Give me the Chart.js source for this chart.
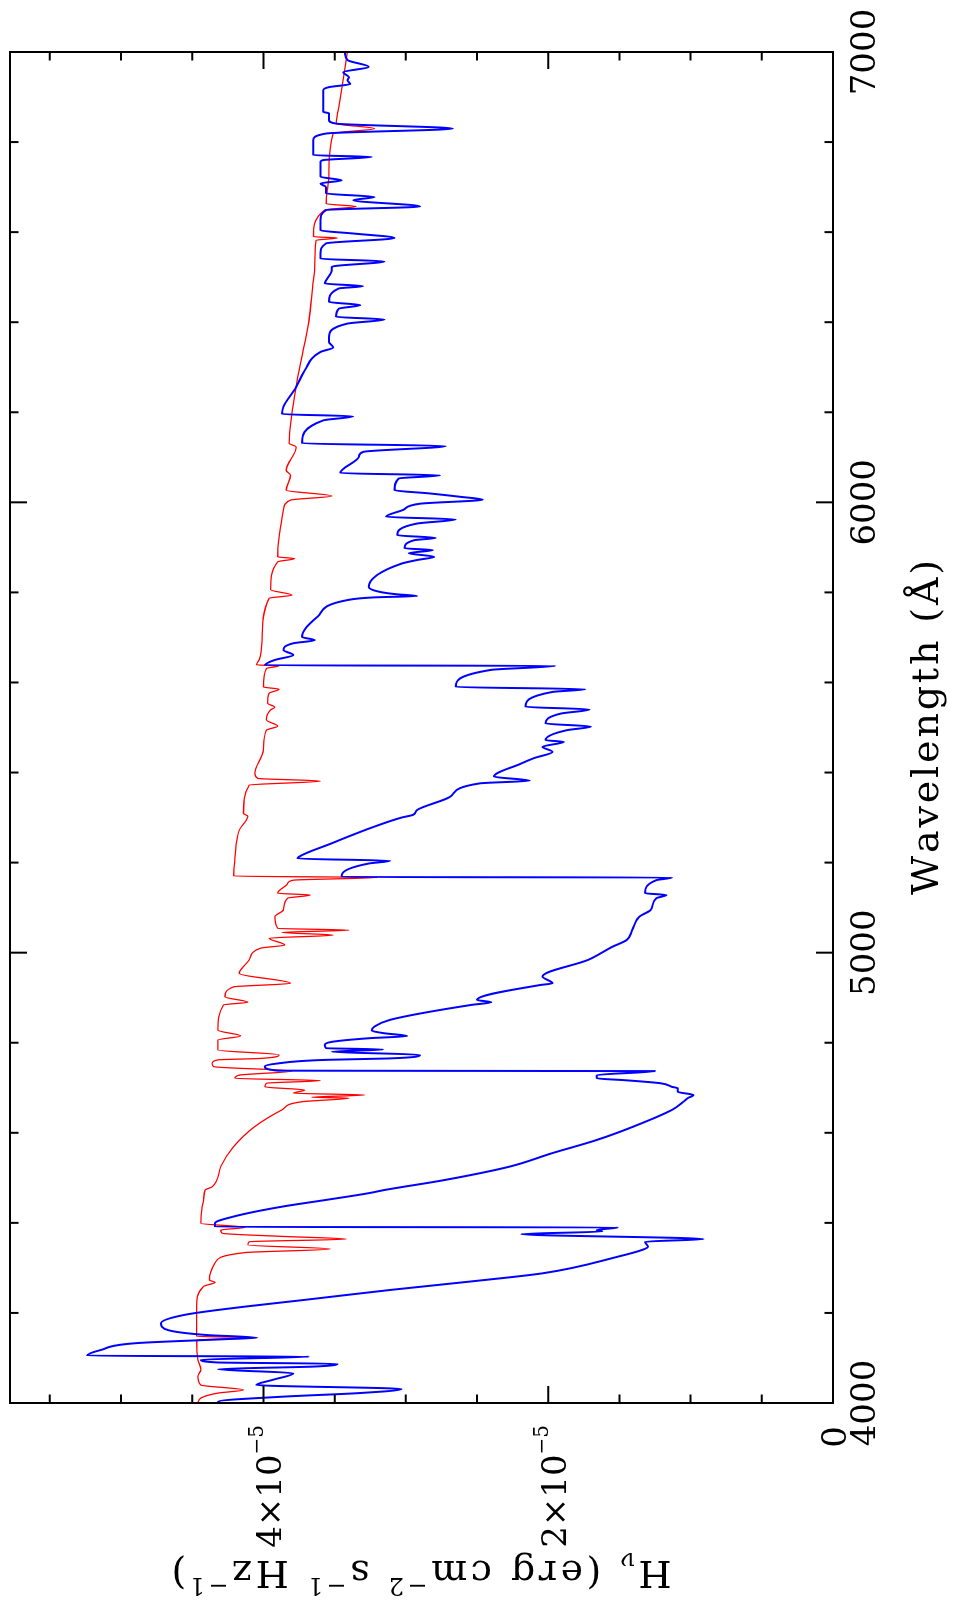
<!DOCTYPE html>
<html>
<head>
<meta charset="utf-8">
<script src="https://cdn.jsdelivr.net/npm/chart.js@4.4.1/dist/chart.umd.min.js"></script>
<style>
  html, body { margin: 0; padding: 0; background: #fff; overflow: hidden; width: 959px; height: 1615px; }
  #wrap { position: absolute; left: 0; top: 0; width: 1615px; height: 959px;
          transform-origin: 0 0; transform: translateY(1615px) rotate(-90deg); background: #fff; }
  canvas { display: block; }
</style>
</head>
<body>
<div id="wrap"><canvas id="c" width="1615" height="959"></canvas></div>
<script>
// ---- data (wavelength in Å, flux H_nu in units of 1e-5 erg cm^-2 s^-1 Hz^-1) ----
const FLUX_UNIT = 1e-5;

const blueWavelength = [4000,4003,4014,4022,4031,4040,4051,4066,4075,4081,4087,4090,4096,4103,4105,4118,4133,4142,4145,4151,4162,4177,4196,4214,4229,4251,4270,4288,4325,4340,4347,4358,4364,4375,4381,4384,4390,4391,4399,4414,4436,4451,4466,4473,4495,4525,4555,4584,4614,4651,4669,4677,4684,4691,4699,4702,4710,4717,4721,4728,4737,4738,4747,4754,4762,4765,4773,4780,4785,4788,4795,4802,4810,4815,4821,4827,4836,4851,4884,4890,4895,4928,4932,4947,4984,5013,5028,5050,5080,5095,5121,5128,5132,5161,5167,5168,5172,5198,5204,5209,5213,5243,5280,5300,5306,5317,5346,5376,5382,5391,5420,5432,5446,5457,5468,5472,5494,5502,5509,5531,5540,5546,5579,5585,5590,5628,5637,5638,5650,5661,5672,5687,5694,5701,5746,5783,5789,5792,5796,5801,5812,5864,5872,5879,5887,5894,5898,5916,5921,5927,5953,5962,5968,5983,5997,6006,6012,6020,6027,6053,6060,6065,6101,6112,6125,6131,6182,6191,6196,6212,6256,6293,6334,6344,6356,6367,6397,6406,6412,6430,6438,6445,6475,6480,6486,6493,6515,6523,6535,6541,6552,6575,6587,6597,6604,6626,6649,6657,6671,6678,6686,6700,6708,6715,6723,6756,6760,6767,6771,6804,6819,6830,6841,6849,6864,6867,6915,6922,6929,6937,6944,6955,6967,6982,7000];
const blueFlux = [4.30,4.32,3.87,3.33,3.03,4.05,3.94,3.79,4.32,3.64,3.48,4.32,4.44,3.68,5.24,5.14,4.89,4.25,4.05,4.40,4.67,4.72,4.55,4.13,3.71,3.11,2.54,2.04,1.51,1.34,1.30,1.32,0.91,2.19,1.62,1.66,1.51,4.34,4.34,4.21,3.87,3.56,3.26,3.15,2.73,2.27,1.97,1.66,1.40,1.13,1.05,1.02,0.98,1.09,1.09,1.13,1.21,1.47,1.66,1.66,1.25,3.90,3.99,3.90,3.56,3.13,2.90,3.52,3.16,3.56,3.57,3.52,3.26,2.99,3.15,3.24,3.22,3.11,2.54,2.40,2.50,2.06,1.97,2.04,1.72,1.55,1.45,1.41,1.36,1.28,1.24,1.17,1.32,1.24,1.13,3.45,3.45,3.26,3.11,3.76,3.75,3.52,3.22,3.03,2.95,2.92,2.69,2.48,2.13,2.38,2.19,2.10,1.97,2.04,1.89,2.02,1.87,1.70,2.02,1.91,1.71,2.16,1.97,1.74,2.65,2.40,1.95,3.99,3.92,3.79,3.86,3.79,3.64,3.73,3.62,3.41,3.22,2.92,3.07,3.18,3.26,3.03,2.92,2.80,2.98,2.81,3.01,2.94,2.79,3.06,2.92,2.65,3.14,3.02,2.90,2.46,2.61,2.84,3.08,3.05,2.76,3.46,3.33,3.30,2.72,3.73,3.58,3.37,3.87,3.86,3.77,3.71,3.60,3.51,3.54,3.54,3.41,3.15,3.49,3.47,3.32,3.54,3.47,3.30,3.57,3.56,3.52,3.52,3.15,3.60,3.60,3.56,3.08,3.37,3.60,3.60,3.56,2.90,3.37,3.22,3.56,3.56,3.60,3.45,3.60,3.60,3.58,3.24,3.65,3.65,3.56,2.67,3.49,3.54,3.54,3.58,3.58,3.54,3.39,3.41,3.40,3.44,3.26,3.41,3.43];

const redWavelength = [4000,4011,4022,4029,4040,4059,4074,4096,4140,4145,4148,4214,4259,4268,4273,4311,4334,4342,4351,4358,4364,4370,4377,4384,4390,4399,4436,4451,4473,4480,4525,4569,4614,4651,4669,4677,4679,4684,4688,4695,4702,4710,4716,4721,4728,4737,4747,4754,4762,4765,4773,4784,4806,4815,4828,4884,4890,4902,4924,4932,4954,4984,5010,5017,5032,5039,5045,5050,5054,5080,5095,5121,5128,5132,5154,5161,5167,5170,5209,5272,5303,5309,5372,5381,5387,5398,5450,5494,5503,5517,5539,5545,5554,5576,5585,5590,5631,5637,5639,5650,5694,5787,5794,5806,5868,5875,5879,5923,5964,5983,6005,6014,6027,6060,6071,6123,6131,6197,6293,6404,6493,6515,6582,6587,6590,6649,6657,6663,6730,6819,6830,6841,6878,7000];
const redFlux = [4.46,4.44,4.32,4.14,4.44,4.46,4.44,4.46,4.47,4.04,4.47,4.47,4.42,4.34,4.38,4.34,4.13,3.53,4.11,4.10,3.42,3.87,4.29,4.30,4.13,4.44,4.43,4.42,4.41,4.36,4.30,4.21,4.06,3.87,3.73,3.40,3.66,3.29,3.79,3.71,3.99,3.98,3.60,4.20,4.17,3.80,4.35,4.36,4.32,4.03,3.89,4.32,4.32,4.16,4.32,4.28,4.11,4.27,4.21,3.81,4.17,4.10,4.02,3.85,3.96,3.51,3.87,3.40,3.90,3.92,3.86,3.83,3.67,3.90,3.83,3.79,3.20,4.21,4.20,4.17,4.11,4.14,4.10,3.60,4.04,4.06,4.00,3.98,3.90,3.98,3.95,3.92,3.97,3.96,3.89,4.00,3.98,3.89,4.05,4.03,4.01,3.96,3.80,3.95,3.90,3.78,3.90,3.89,3.87,3.86,3.81,3.52,3.84,3.81,3.84,3.77,3.82,3.80,3.75,3.68,3.65,3.64,3.63,3.48,3.65,3.57,3.35,3.56,3.54,3.51,3.22,3.49,3.47,3.41];

// ---- axis ticks ----
const xTickValues = [4000, 5000, 6000, 7000];
const xTickLabels = ['4000', '5000', '6000', '7000'];
const yTickValues = [0, 2e-5, 4e-5];
const yTickMantissa = ['0', '2×10', '4×10'];
const yTickExponent = ['', '−5', '−5'];
const xTitle = 'Wavelength (Å)';

const FONT = '"DejaVu Serif", "Liberation Serif", serif';

function toPoints(xs, ys) { return xs.map((x, i) => ({ x: x, y: ys[i] * FLUX_UNIT })); }

function partsWidth(ctx, parts) {
  let w = 0, n = 0;
  for (const p of parts) {
    ctx.font = p.size + 'px ' + FONT;
    for (const ch of p.text) { w += ctx.measureText(ch).width; n++; }
  }
  return { w: w, n: n };
}
function drawParts(ctx, parts, x, y, align, targetWidth) {
  const m = partsWidth(ctx, parts);
  let spacing = 0;
  if (targetWidth) spacing = (targetWidth - m.w) / Math.max(1, m.n - 1);
  const total = m.w + spacing * (m.n - 1);
  let cx = align === 'right' ? x - total : (align === 'center' ? x - total / 2 : x);
  ctx.textAlign = 'left';
  ctx.textBaseline = 'alphabetic';
  for (const p of parts) {
    ctx.font = p.size + 'px ' + FONT;
    for (const ch of p.text) {
      ctx.fillText(ch, cx, y + (p.dy || 0));
      cx += ctx.measureText(ch).width + spacing;
    }
  }
}

const framePlugin = {
  id: 'pgframe',
  afterDraw(chart) {
    const ctx = chart.ctx;
    const { left, right, top, bottom } = chart.chartArea;
    const xs = chart.scales.x, ys = chart.scales.y;
    ctx.save();
    ctx.strokeStyle = '#000';
    ctx.fillStyle = '#000';
    ctx.lineWidth = 2;
    ctx.lineCap = 'butt';
    ctx.beginPath();
    for (let v = 4000; v <= 7000; v += 200) {
      const px = xs.getPixelForValue(v);
      const L = (v % 1000 === 0) ? 17 : 8.5;
      ctx.moveTo(px, bottom); ctx.lineTo(px, bottom - L);
      ctx.moveTo(px, top); ctx.lineTo(px, top + L);
    }
    for (let i = 0; i <= 11; i++) {
      const py = ys.getPixelForValue(i * 0.5e-5);
      const L = (i % 4 === 0) ? 17 : 8.5;
      ctx.moveTo(left, py); ctx.lineTo(left + L, py);
      ctx.moveTo(right, py); ctx.lineTo(right - L, py);
    }
    ctx.stroke();
    ctx.strokeRect(left, top, right - left, bottom - top);

    xTickValues.forEach((v, i) => {
      drawParts(ctx, [{ text: xTickLabels[i], size: 34 }], xs.getPixelForValue(v), bottom + 42, 'center');
    });
    yTickValues.forEach((v, i) => {
      const py = ys.getPixelForValue(v);
      if (yTickExponent[i]) {
        drawParts(ctx, [{ text: yTickMantissa[i], size: 34 }, { text: yTickExponent[i], size: 20, dy: -18.5 }], left - 22, py + 18, 'right');
      } else {
        drawParts(ctx, [{ text: yTickMantissa[i], size: 34 }], left - 23, py + 13.4, 'right');
      }
    });
    drawParts(ctx, [{ text: xTitle, size: 38 }], (left + right) / 2, bottom + 105, 'center', 335);
    ctx.translate(54, (top + bottom) / 2);
    ctx.rotate(-Math.PI / 2);
    drawParts(ctx, [
      { text: 'H', size: 38 }, { text: 'ν', size: 24, dy: 8 },
      { text: ' (erg cm', size: 38 }, { text: '−2', size: 24, dy: -17 },
      { text: ' s', size: 38 }, { text: '−1', size: 24, dy: -17 },
      { text: ' Hz', size: 38 }, { text: '−1', size: 24, dy: -17 },
      { text: ')', size: 38 }
    ], 0, 0, 'center', 500);
    ctx.restore();
  }
};

new Chart(document.getElementById('c'), {
  type: 'line',
  data: {
    datasets: [
      { label: 'blue', data: toPoints(blueWavelength, blueFlux), borderColor: '#0000ff', borderWidth: 2, pointRadius: 0, cubicInterpolationMode: 'monotone', fill: false, borderJoinStyle: 'round' },
      { label: 'red', data: toPoints(redWavelength, redFlux), borderColor: '#ff0000', borderWidth: 1.3, pointRadius: 0, cubicInterpolationMode: 'monotone', fill: false, borderJoinStyle: 'round' }
    ]
  },
  options: {
    responsive: false,
    animation: false,
    devicePixelRatio: 1,
    layout: { padding: { left: 212, right: 52, top: 10, bottom: 126 } },
    scales: {
      x: { type: 'linear', min: 4000, max: 7000, display: false },
      y: { type: 'linear', min: 0, max: 5.78e-5, display: false }
    },
    plugins: { legend: { display: false }, tooltip: { enabled: false } },
    events: []
  },
  plugins: [framePlugin]
});
</script>
</body>
</html>
